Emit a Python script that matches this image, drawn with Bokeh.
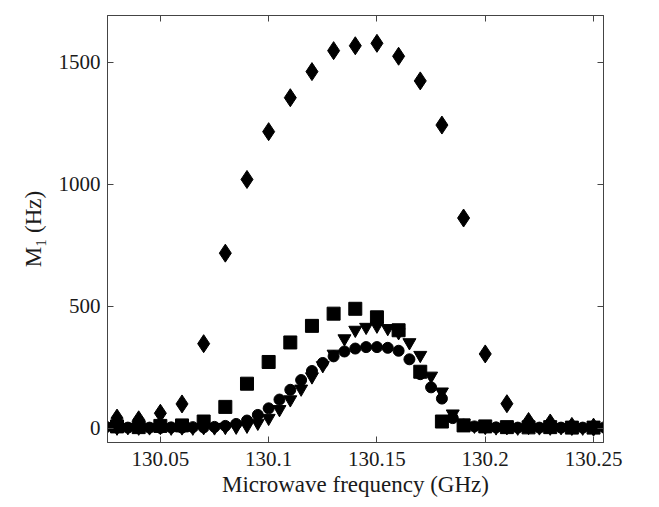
from bokeh.plotting import figure
from bokeh.models import Range1d, FixedTicker, LinearAxis, CustomJSTickFormatter
from bokeh.embed import file_html
from bokeh.resources import INLINE

# Diamonds and squares: 0.01 GHz grid
coarse_f = [130.03, 130.04, 130.05, 130.06, 130.07, 130.08, 130.09, 130.10, 130.11,
            130.12, 130.13, 130.14, 130.15, 130.16, 130.17, 130.18, 130.19, 130.20,
            130.21, 130.22, 130.23, 130.24, 130.25]
diamond_vals = [42, 35, 62, 100, 347, 718, 1020, 1216, 1355, 1462, 1548, 1568, 1578,
                1525, 1424, 1243, 862, 305, 101, 28, 22, 8, 5]
square_vals = [8, 5, 10, 12, 28, 88, 183, 272, 352, 420, 470, 490, 455, 402, 232, 28,
               12, 8, 5, 4, 5, 3, 3]

# Circles and inverted triangles: 0.005 GHz grid
fine_f = [130.025, 130.030, 130.035, 130.040, 130.045, 130.050, 130.055, 130.060,
          130.065, 130.070, 130.075, 130.080, 130.085, 130.090, 130.095, 130.100,
          130.105, 130.110, 130.115, 130.120, 130.125, 130.130, 130.135, 130.140,
          130.145, 130.150, 130.155, 130.160, 130.165, 130.170, 130.175, 130.180,
          130.185, 130.190, 130.195, 130.200, 130.205, 130.210, 130.215, 130.220,
          130.225, 130.230, 130.235, 130.240, 130.245, 130.250, 130.255]
circle_vals = [6, 4, 3, 5, 3, 2, 4, 3, 5, 4, 6, 10, 18, 32, 55, 82, 118, 158, 198, 235,
               268, 295, 315, 327, 333, 333, 330, 318, 283, 222, 168, 122, 42, 15, 8,
               6, 4, 5, 3, 4, 3, 5, 3, 4, 3, 5, 4]
triangle_vals = [3, 2, 4, 2, 3, 5, 2, 3, 2, 4, 3, 5, 6, 10, 22, 42, 78, 118, 162, 212,
                 258, 305, 368, 403, 415, 420, 410, 393, 352, 300, 215, 150, 60, 22, 10,
                 5, 3, 4, 2, 5, 3, 2, 4, 3, 2, 3, 2]

x_ticks = [130.05, 130.1, 130.15, 130.2, 130.25]
y_ticks = [0, 500, 1000, 1500]

FONT = "Liberation Serif"
AX = "#444444"

p = figure(width=651, height=499, output_backend="svg", toolbar_location=None,
           x_range=Range1d(130.0256, 130.2546), y_range=Range1d(-58, 1692),
           min_border_left=107, min_border_right=48, min_border_top=15,
           min_border_bottom=54)
p.grid.visible = False
p.outline_line_color = AX
p.outline_line_width = 1
p.background_fill_color = "white"
p.border_fill_color = "white"

p.scatter(coarse_f, diamond_vals, marker="diamond", size=18, color="black")
p.scatter(coarse_f, square_vals, marker="square", size=13, color="black")
p.scatter(fine_f, triangle_vals, marker="inverted_triangle", size=13, color="black")
p.scatter(fine_f, circle_vals, marker="circle", size=11, color="black")

def style(ax, labels=True):
    ax.axis_line_color = AX
    ax.major_tick_line_color = AX
    ax.major_tick_in = 6
    ax.major_tick_out = 0
    ax.minor_tick_line_color = None
    ax.major_label_text_font = FONT
    ax.major_label_text_font_size = "21px"
    ax.major_label_text_color = "#1a1a1a"
    ax.axis_label_text_font = FONT
    ax.axis_label_text_font_size = "23px"
    ax.axis_label_text_font_style = "normal"
    ax.axis_label_text_color = "#1a1a1a"
    if not labels:
        ax.major_label_text_font_size = "0px"
        ax.major_label_text_color = None

fmt = CustomJSTickFormatter(code="return String(tick);")

xa = p.xaxis[0]
xa.ticker = FixedTicker(ticks=x_ticks)
xa.formatter = fmt
xa.axis_label = "Microwave frequency (GHz)"
xa.major_label_standoff = 9
xa.axis_label_standoff = 3
style(xa)

ya = p.yaxis[0]
ya.ticker = FixedTicker(ticks=y_ticks)
ya.axis_label = "M\u2081 (Hz)"
ya.major_label_standoff = 7
ya.axis_label_standoff = 10
style(ya)

top = LinearAxis(ticker=FixedTicker(ticks=x_ticks))
style(top, labels=False)
p.add_layout(top, "above")
right = LinearAxis(ticker=FixedTicker(ticks=y_ticks))
style(right, labels=False)
p.add_layout(right, "right")

open("out.html", "w").write(file_html(p, INLINE))
